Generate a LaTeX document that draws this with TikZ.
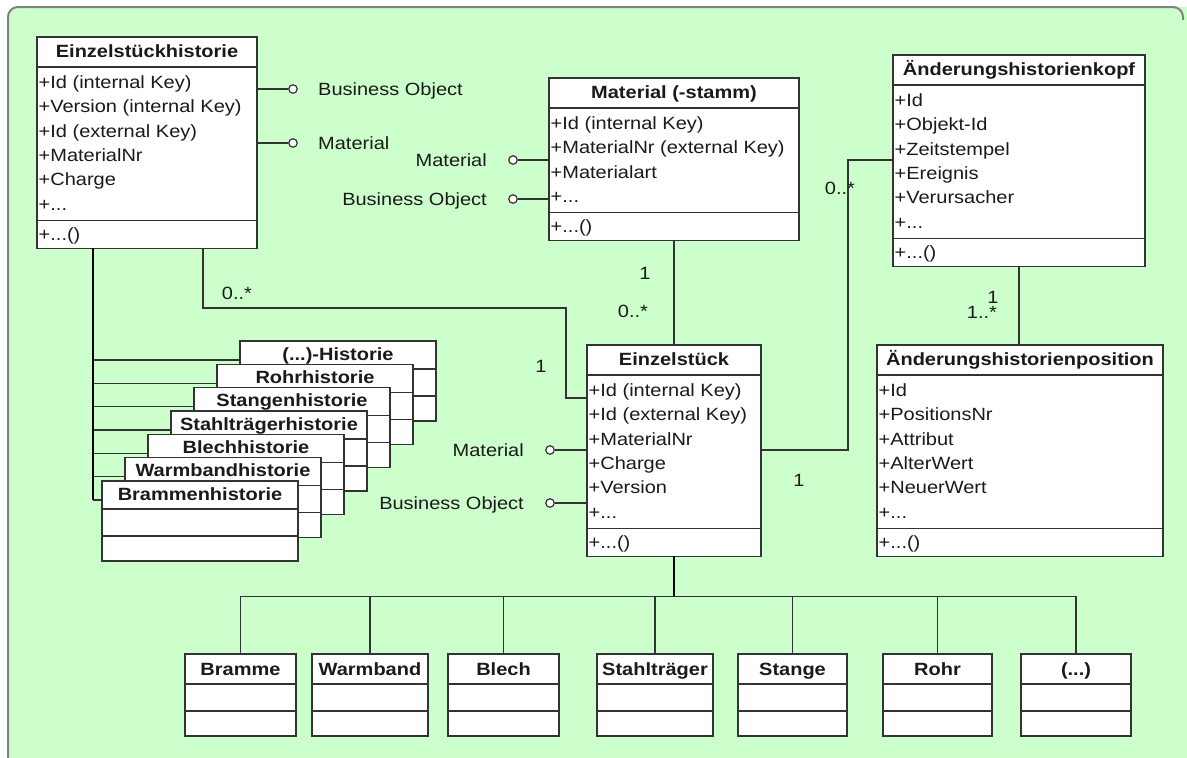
\documentclass[tikz,border=0pt]{standalone}
\usepackage{fontspec}
\setmainfont{Liberation Sans}[FakeStretch=1.13]
\usetikzlibrary{calc}
\definecolor{bggreen}{HTML}{CCFFCC}
\definecolor{bgborder}{HTML}{808080}
\definecolor{linec}{HTML}{333333}
\definecolor{txtc}{HTML}{1A1A1A}
\newcommand\dfont{\fontsize{17.7}{24.4}\selectfont}
\newcommand\tdots{...}
\tikzset{
  classbox/.style={draw=linec, line width=1.4pt, fill=white, rectangle, inner sep=0pt, outer sep=0pt, anchor=north west},
  sepline/.style={draw=linec, line width=1.4pt},
  titletext/.style={font=\dfont\bfseries, text=txtc, inner sep=0pt, anchor=base},
  attrtext/.style={text=txtc, inner sep=0pt, anchor=base west},
  conn/.style={draw=linec, line width=1.3pt},
  trunk/.style={draw=black, line width=2.4pt},
  lolly/.style={circle, draw=linec, line width=1.2pt, fill=white, minimum size=8.5pt, inner sep=0pt},
  lbl/.style={text=txtc, inner sep=0pt},
  mult/.style={text=txtc, inner sep=0pt, anchor=base},
}
% UML class: name, x, y(top), width, title, n attrs, attr list, method
\newcommand\umlclass[8]{%
  \pgfmathsetmacro\clsH{30+24.4*#6+7+28}%
  \pgfmathsetmacro\sepB{30+24.4*#6+7}%
  \node[classbox, minimum width=#4pt, minimum height=\clsH pt] (#1) at (#2,#3) {};
  \node[titletext] (#1-title) at ($(#1.north)+(0,20)$) {#5};
  \draw[sepline] ($(#1.north west)+(0,30)$) -- ($(#1.north east)+(0,30)$);
  \draw[sepline] ($(#1.north west)+(0,\sepB)$) -- ($(#1.north east)+(0,\sepB)$);
  \foreach \a [count=\i from 0] in {#7} {
    \node[attrtext] (#1-a\i) at ($(#1.north west)+(1.5,{51.2+24.4*\i})$) {\a};
  }
  \node[attrtext] (#1-m) at ($(#1.north west)+(1.5,{\sepB+20})$) {#8};
}
% empty class box: name, x, y, width, title, title height
\newcommand\simplebox[6]{%
  \pgfmathsetmacro\sbH{#6+52}%
  \node[classbox, minimum width=#4pt, minimum height=\sbH pt] (#1) at (#2,#3) {};
  \node[titletext] (#1-title) at ($(#1.north)+(0,{#6-9})$) {#5};
  \draw[sepline] ($(#1.north west)+(0,#6)$) -- ($(#1.north east)+(0,#6)$);
  \draw[sepline] ($(#1.north west)+(0,{#6+27})$) -- ($(#1.north east)+(0,{#6+27})$);
  \coordinate (#1-j) at ($(#1.north west)+(0,19)$);
}
\begin{document}
\begin{tikzpicture}[x=1pt,y=-1pt,font=\dfont]
\useasboundingbox (0,0) rectangle (1187,758);
\clip (0,0) rectangle (1187,758);
\fill[bggreen, rounded corners=10pt] (8,7) rectangle (1200,790);
\draw[bgborder, line width=2pt, rounded corners=10pt] (8,790) -- (8,7) -- (1183,7) -- (1183,790);
\fill[bggreen] (1175,20) rectangle (1190,790);

% main classes
\umlclass{ezh}{37}{37}{220}{Einzelstückhistorie}{6}{+Id (internal Key),+Version (internal Key),+Id (external Key),+MaterialNr,+Charge,+\tdots}{+\tdots()}
\umlclass{mat}{549}{78}{250}{Material (-stamm)}{4}{+Id (internal Key),+MaterialNr (external Key),+Materialart,+\tdots}{+\tdots()}
\umlclass{ahk}{893}{55}{252}{Änderungshistorienkopf}{6}{+Id,+Objekt-Id,+Zeitstempel,+Ereignis,+Verursacher,+\tdots}{+\tdots()}
\umlclass{ez}{587}{345}{174}{Einzelstück}{6}{+Id (internal Key),+Id (external Key),+MaterialNr,+Charge,+Version,+\tdots}{+\tdots()}
\umlclass{ahp}{877}{345}{286}{Änderungshistorienposition}{6}{+Id,+PositionsNr,+Attribut,+AlterWert,+NeuerWert,+\tdots}{+\tdots()}

% lollipops
\node[lolly] (ezhBO) at (293,89) {};
\node[lbl, anchor=base west] (ezhBOl) at (318,95) {Business Object};
\draw[conn] (ezh.east |- ezhBO) -- (ezhBO.west);
\node[lolly] (ezhMat) at (293,143) {};
\node[lbl, anchor=base west] (ezhMatl) at (318,149) {Material};
\draw[conn] (ezh.east |- ezhMat) -- (ezhMat.west);

\node[lolly] (matMat) at (513,160) {};
\node[lbl, anchor=base east] (matMatl) at (487,166) {Material};
\draw[conn] (matMat.east) -- (mat.west |- matMat);
\node[lolly] (matBO) at (513,199) {};
\node[lbl, anchor=base east] (matBOl) at (487,205) {Business Object};
\draw[conn] (matBO.east) -- (mat.west |- matBO);

\node[lolly] (ezMat) at (550,450) {};
\node[lbl, anchor=base east] (ezMatl) at (524,456) {Material};
\draw[conn] (ezMat.east) -- (ez.west |- ezMat);
\node[lolly] (ezBO) at (550,503) {};
\node[lbl, anchor=base east] (ezBOl) at (524,509) {Business Object};
\draw[conn] (ezBO.east) -- (ez.west |- ezBO);

% associations
\coordinate (c1s) at ($(ezh.south west)+(166,0)$);
\coordinate (c1e) at ($(ez.north west)+(0,53)$);
\draw[conn] (c1s) |- (566,308) |- (c1e);
\node[mult] (m1a) at (237,299) {0..*};
\node[mult] (m1b) at (541,372) {1};

\draw[conn] (mat.south) -- (mat.south |- ez.north);
\node[mult] (m2a) at (645,279) {1};
\node[mult] (m2b) at (633,317) {0..*};

\coordinate (c3s) at ($(ez.north east)+(0,105)$);
\coordinate (c3e) at ($(ahk.north west)+(0,105)$);
\draw[conn] (c3s) -| ($(c3e)+(-45,0)$) -- (c3e);
\node[mult] (m3a) at (840,194) {0..*};
\node[mult] (m3b) at (799,486) {1};

\draw[conn] (ahk.south) -- (ahk.south |- ahp.north);
\node[mult] (m4b) at (982,318) {1..*};
\node[mult] (m4a) at (993,303) {1};

% history stack (back to front)
\simplebox{h6}{240}{341}{196}{(\tdots)-Historie}{28}
\simplebox{h5}{217}{364.3}{196}{Rohrhistorie}{28}
\simplebox{h4}{194}{387.7}{196}{Stangenhistorie}{28}
\simplebox{h3}{171}{411}{196}{Stahlträgerhistorie}{28}
\simplebox{h2}{148}{434.3}{196}{Blechhistorie}{28}
\simplebox{h1}{125}{457.7}{196}{Warmbandhistorie}{28}
\simplebox{h0}{102}{481}{196}{Brammenhistorie}{28}
\coordinate (trTop) at ($(ezh.south west)+(56,0)$);
\foreach \k in {0,1,2,3,4,5,6} {
  \draw[conn] (trTop |- h\k-j) -- (h\k-j);
}
\draw[trunk] (trTop) -- (trTop |- h0-j);

% subclasses of Einzelstück
\simplebox{b1}{185}{654}{111}{Bramme}{30}
\simplebox{b2}{312}{654}{116}{Warmband}{30}
\simplebox{b3}{448}{654}{111}{Blech}{30}
\simplebox{b4}{597}{654}{116}{Stahlträger}{30}
\simplebox{b5}{738}{654}{109}{Stange}{30}
\simplebox{b6}{883}{654}{109}{Rohr}{30}
\simplebox{b7}{1021}{654}{110}{(\tdots)}{30}
\coordinate (bar) at ($(ez.south)+(0,40)$);
\draw[conn] (b1.north |- bar) -- (b7.north |- bar);
\foreach \k in {1,2,3,4,5,6,7} {
  \draw[conn] (b\k.north |- bar) -- (b\k.north);
}
\draw[trunk] (ez.south) -- (bar);
\end{tikzpicture}
\end{document}
